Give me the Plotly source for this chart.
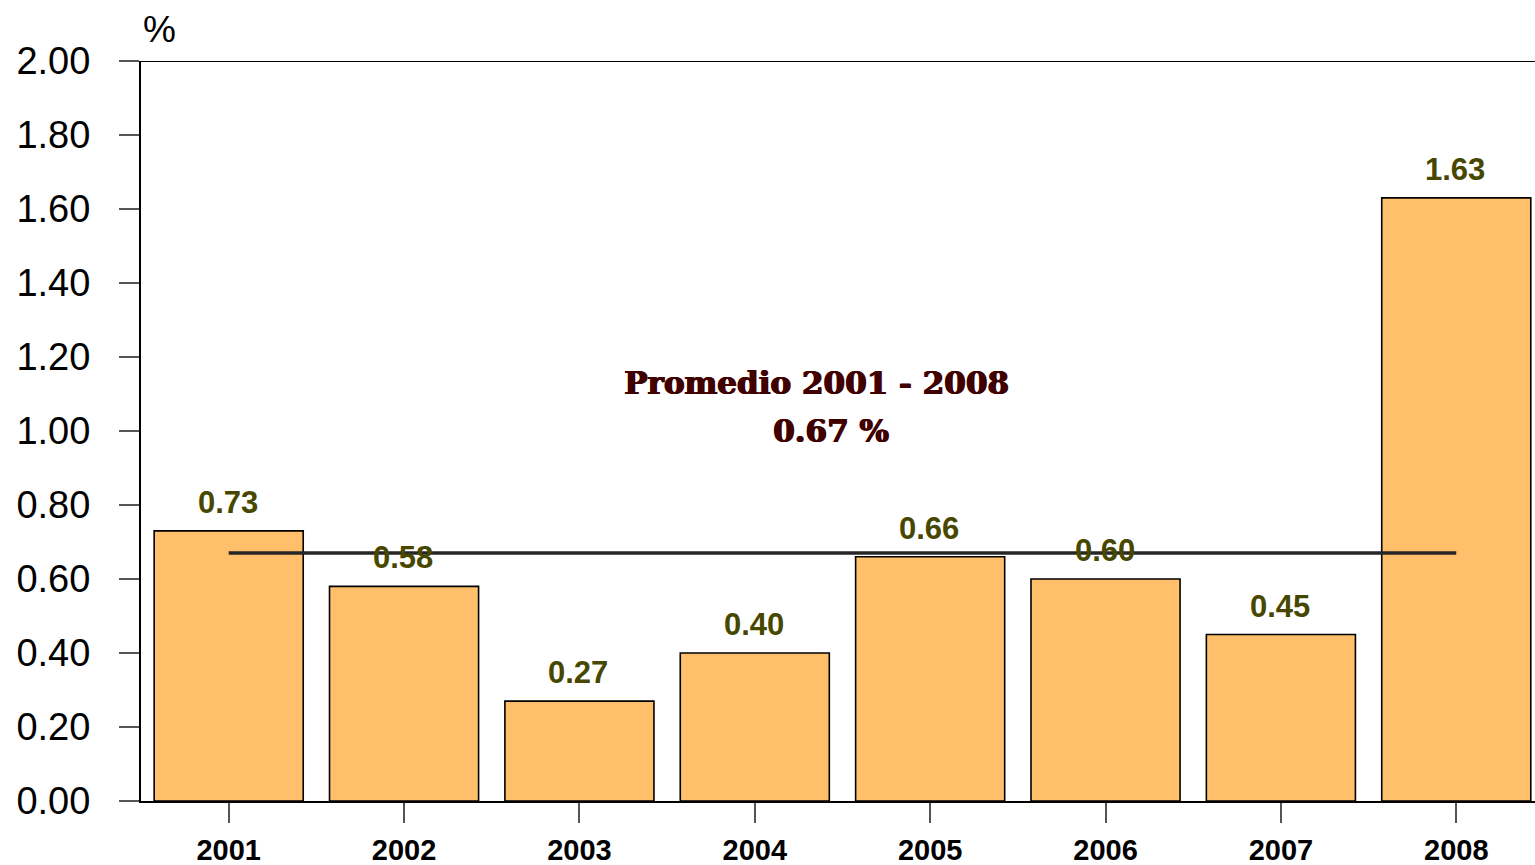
import plotly.graph_objects as go

# Annual values (%)
years = ["2001", "2002", "2003", "2004", "2005", "2006", "2007", "2008"]
values = [0.73, 0.58, 0.27, 0.40, 0.66, 0.60, 0.45, 1.63]
average = 0.67
y_ticks = [0.0, 0.2, 0.4, 0.6, 0.8, 1.0, 1.2, 1.4, 1.6, 1.8, 2.0]

bar_fill = "#FFBF6B"
label_color = "#474700"
note_color = "#400000"

fig = go.Figure()

fig.add_trace(go.Bar(
    x=years, y=values, width=0.85,
    marker=dict(color=bar_fill, line=dict(color="#000000", width=1.6)),
    hoverinfo="skip",
))

# Average line across the period
fig.add_trace(go.Scatter(
    x=[years[0], years[-1]], y=[average, average], mode="lines",
    line=dict(color="#262626", width=3.5), hoverinfo="skip",
))

annotations = []
for i, v in enumerate(values):
    annotations.append(dict(
        x=i, y=v, xref="x", yref="y", text=f"{v:.2f}", showarrow=False,
        yanchor="bottom", yshift=9, xshift=-1,
        font=dict(family="Liberation Sans, Arial", size=31, color=label_color, weight="bold"),
    ))

# Heavy serif note for the period average
note_font = dict(family="DejaVu Serif", size=31, color=note_color, weight="bold",
                 shadow="1px 0px 0px #400000, -0.5px 0px 0px #400000")
annotations += [
    dict(x=3.354, y=1.13, xref="x", yref="y", text="Promedio 2001 - 2008", showarrow=False,
         xanchor="center", yanchor="middle", font=note_font),
    dict(x=3.434, y=1.0, xref="x", yref="y", text=f"{average:.2f} %", showarrow=False,
         xanchor="center", yanchor="middle", font=note_font),
    dict(x=0, y=1, xref="paper", yref="paper", text="%", showarrow=False,
         xanchor="center", yanchor="middle", xshift=18, yshift=32,
         font=dict(family="Liberation Sans, Arial", size=37, color="#000000")),
]

fig.update_layout(
    width=1535, height=865,
    margin=dict(l=141, r=0, t=61, b=64, pad=0),
    paper_bgcolor="#FFFFFF", plot_bgcolor="#FFFFFF",
    showlegend=False, bargap=0.15,
    annotations=annotations,
    shapes=[dict(type="line", xref="paper", yref="y", x0=0, x1=1, y0=2.0, y1=2.0,
                 line=dict(color="#000000", width=2))],
)

fig.update_xaxes(
    type="category", range=[-0.5, 7.449], automargin=False,
    showgrid=False, zeroline=False,
    showline=True, linecolor="#000000", linewidth=2,
    ticks="outside", ticklen=20, tickwidth=1.5, tickcolor="#555555",
    tickfont=dict(family="Liberation Sans, Arial", size=29, color="#000000", weight="bold"),
    ticklabelstandoff=2,
)

fig.update_yaxes(
    range=[0, 2.0], tickvals=y_ticks, ticktext=[f"{t:.2f}" for t in y_ticks],
    automargin=False,
    showgrid=False, zeroline=False,
    showline=True, linecolor="#000000", linewidth=2,
    ticks="outside", ticklen=20, tickwidth=1.5, tickcolor="#555555",
    tickfont=dict(family="Liberation Sans, Arial", size=38, color="#000000"),
    ticklabelstandoff=21,
)

fig.write_html("out.html")
